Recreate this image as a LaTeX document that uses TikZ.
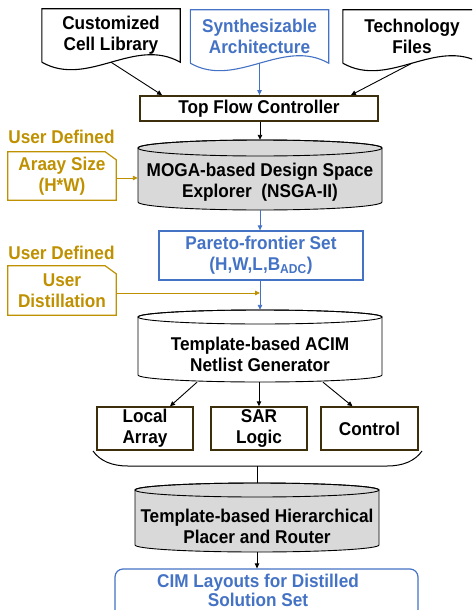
\documentclass[tikz,border=0pt]{standalone}
\usepackage{fontspec}
\setmainfont{Liberation Sans}[FakeStretch=0.93]
\usetikzlibrary{arrows.meta,calc}
\definecolor{gold}{HTML}{BF9000}
\definecolor{blueline}{HTML}{4472C4}
\definecolor{brownline}{HTML}{3D2E0C}
\definecolor{cylgray}{HTML}{D9D9D9}

% cylinder: centre x, x radius, top-ellipse y, bottom-ellipse y, y radius, fill
\newcommand\drawcyl[6]{%
  \filldraw[fill=#6, draw=black, line width=0.9pt]
    (#1-#2,#3) -- (#1-#2,#4)
    arc[start angle=180, end angle=360, x radius=#2pt, y radius=#5pt]
    -- (#1+#2,#3)
    arc[start angle=0, end angle=180, x radius=#2pt, y radius=#5pt] -- cycle;
  \draw[line width=0.9pt] (#1,#3) ellipse[x radius=#2pt, y radius=#5pt];}

% document outline with a wavy lower edge around a node
\newcommand\docoutline[2]{%
  \draw[draw=#2, line width=1.1pt]
    (#1.south west) -- (#1.north west) -- (#1.north east) -- (#1.south east)
    .. controls +(-46pt,26pt) and +(46pt,-26pt) .. (#1.south west);}

% card outline with a clipped upper-right corner
\newcommand\cardoutline[1]{%
  \draw[gold, line width=1.2pt]
    (#1.north west) -- ([xshift=-11pt]#1.north east) -- ([yshift=-8pt]#1.north east)
    -- (#1.south east) -- (#1.south west) -- cycle;}

\tikzset{
  every node/.style={font=\fontsize{18.5}{21}\selectfont\bfseries, align=center, inner sep=0pt},
  arr/.style={-{Triangle[length=5pt,width=4.5pt]}, line width=0.9pt},
  docbox/.style={minimum width=138pt, minimum height=53pt},
  flowbox/.style={draw=brownline, line width=1.4pt},
  cylnode/.style={minimum width=244pt},
  cardbox/.style={minimum width=108pt, text=gold},
}

\begin{document}
\begin{tikzpicture}[x=1pt,y=-1pt]
\useasboundingbox (0,0) rectangle (472,610);
\clip (0,0) rectangle (472,610);

% inputs
\node[docbox] (lib) at (111,35.5) {Customized\\Cell Library};
\node[docbox, text=blueline] (synth) at (259.5,36.5) {Synthesizable\\Architecture};
\node[docbox] (tech) at (412,36.5) {Technology\\Files};
\docoutline{lib}{black}
\docoutline{synth}{blueline}
\docoutline{tech}{black}

\node[flowbox, line width=1.8pt, minimum width=238pt, minimum height=25pt] (tfc) at (259,108.5) {Top Flow Controller};

\draw[arr] (lib.south) -- ([xshift=23pt]tfc.north west);
\draw[arr, blueline] (synth.south) -- (synth.south |- tfc.north);
\draw[arr] (tech.south) -- ([xshift=-28pt]tfc.north east);

% design space explorer
\drawcyl{260}{122}{148}{202}{8}{cylgray}
\node[cylnode, minimum height=70pt,
  label={[yshift=-7.5pt]center:{MOGA-based Design Space\\Explorer\ \ (NSGA-II)}}] (moga) at (260,175) {};
\draw[arr] (moga.north |- tfc.south) -- (moga.north);

\node[text=gold] (ud1) at (61.5,137) {User Defined};
\node[cardbox, minimum height=48pt] (araay) at (62,176) {Araay Size\\(H*W)};
\cardoutline{araay}
\coordinate (a1) at ([yshift=-2pt]araay.east);
\draw[arr, gold] (a1) -- (a1 -| moga.west);

% Pareto set
\node[flowbox, draw=blueline, text=blueline, line width=1.3pt, minimum width=204pt, minimum height=49pt]
  (pareto) at (261,255.5) {Pareto-frontier Set\\(H,W,L,B\textsubscript{ADC})};
\draw[arr, blueline] (moga.south) -- (moga.south |- pareto.north);

\node[text=gold] (ud2) at (61.5,253) {User Defined};
\node[cardbox, minimum height=49pt] (dist) at (62,290.5) {User\\Distillation};
\cardoutline{dist}

% netlist generator
\drawcyl{260}{122}{317}{375}{7}{white}
\node[cylnode, minimum height=72pt,
  label={[yshift=-8pt]center:{Template-based ACIM\\Netlist Generator}}] (acim) at (260,346) {};
\draw[arr, blueline] (acim.north |- pareto.south) -- (acim.north);
\coordinate (d1) at ([yshift=-2.5pt]dist.east);
\draw[arr, gold] (d1) -- (d1 -| acim.north);

\node[flowbox, minimum width=96pt, minimum height=43pt] (local) at (145,428.5) {Local\\Array};
\node[flowbox, minimum width=96pt, minimum height=43pt] (sar) at (259,428.5) {SAR\\Logic};
\node[flowbox, minimum width=97pt, minimum height=43pt] (ctrl) at (369.5,428.5) {Control};

\draw[arr] ([xshift=-63pt]acim.south) -- ([xshift=25pt]local.north);
\draw[arr] (sar.north |- acim.south) -- (sar.north);
\draw[arr] ([xshift=63pt]acim.south) -- ([xshift=-17pt]ctrl.north);

% grouping bracket under the three blocks
\draw[line width=1pt] (93,451) .. controls (100,461) and (112,466) .. (128,466)
  -- (387,466) .. controls (403,466) and (415,461) .. (422,451);
\coordinate (brace) at (257,466);

% placer and router
\drawcyl{257}{122}{490}{545}{7}{cylgray}
\node[cylnode, minimum height=69pt,
  label={[yshift=-8.5pt]center:{Template-based Hierarchical\\Placer and Router}}] (placer) at (257,517.5) {};
\draw[line width=1pt] (brace) -- (placer.north);

% result
\node[draw=blueline, rounded corners=8pt, line width=1.2pt, minimum width=303pt, minimum height=50pt]
  (final) at (266.5,594) {};
\node[text=blueline, font=\fontsize{18.5}{18.5}\selectfont\bfseries] (finaltext) at (258,590.5)
  {CIM Layouts for Distilled\\Solution Set};
\draw[arr] (placer.south) -- (placer.south |- final.north);
\end{tikzpicture}
\end{document}
